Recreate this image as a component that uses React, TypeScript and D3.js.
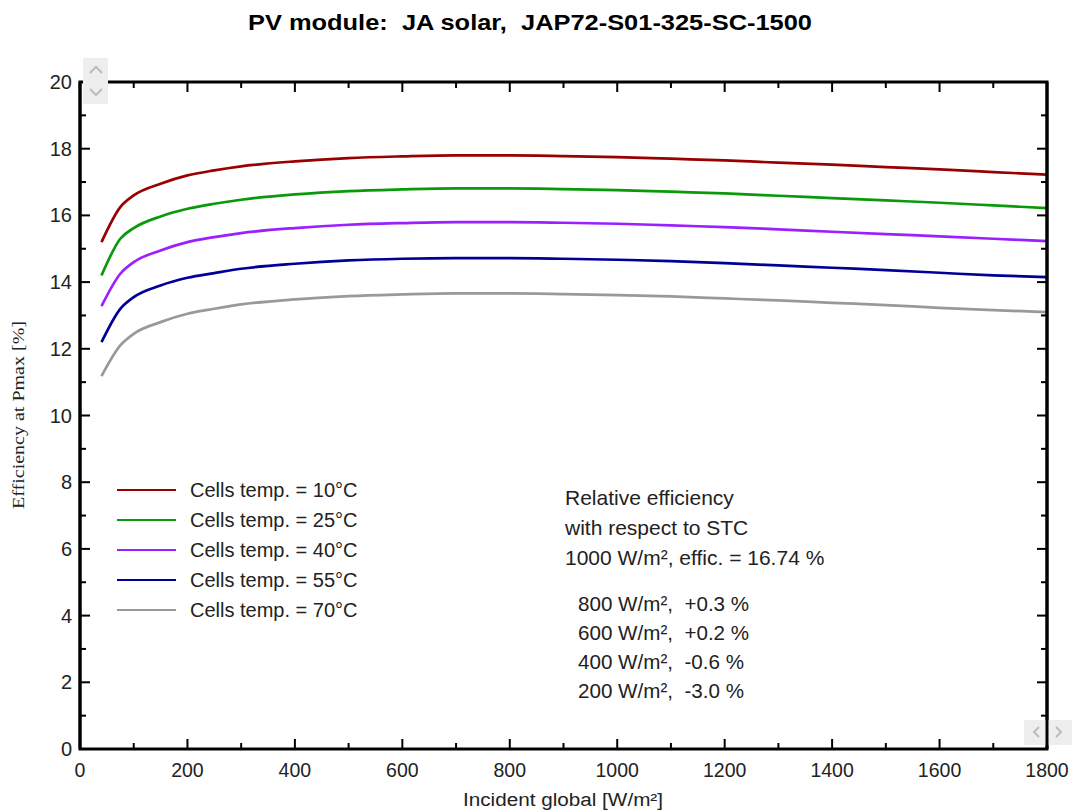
import React, { useEffect, useRef } from "react";
import * as d3 from "d3";

// irradiance [W/m²]
const irradiance = [40, 75, 100, 150, 200, 250, 300, 400, 500, 600, 700, 800, 900, 1000, 1100, 1200, 1300, 1400, 1500, 1600, 1700, 1800];

const eff10 = [15.2, 16.25, 16.6, 16.95, 17.2, 17.35, 17.47, 17.62, 17.72, 17.77, 17.8, 17.8, 17.78, 17.75, 17.7, 17.65, 17.58, 17.52, 17.45, 17.38, 17.3, 17.22];
const eff25 = [14.2, 15.3, 15.62, 15.97, 16.2, 16.35, 16.47, 16.63, 16.73, 16.78, 16.81, 16.81, 16.79, 16.76, 16.71, 16.66, 16.59, 16.52, 16.45, 16.38, 16.3, 16.22];
const eff40 = [13.28, 14.25, 14.6, 14.95, 15.2, 15.35, 15.47, 15.62, 15.72, 15.77, 15.8, 15.8, 15.78, 15.75, 15.7, 15.65, 15.58, 15.51, 15.44, 15.37, 15.3, 15.23];
const eff55 = [12.2, 13.2, 13.55, 13.9, 14.13, 14.27, 14.4, 14.55, 14.65, 14.7, 14.72, 14.72, 14.7, 14.67, 14.63, 14.57, 14.5, 14.43, 14.36, 14.28, 14.2, 14.15];
const eff70 = [11.18, 12.1, 12.45, 12.8, 13.05, 13.2, 13.33, 13.48, 13.58, 13.63, 13.66, 13.66, 13.64, 13.61, 13.57, 13.51, 13.45, 13.38, 13.31, 13.23, 13.16, 13.1];

const seriesLabels = ["Cells temp. = 10°C", "Cells temp. = 25°C", "Cells temp. = 40°C", "Cells temp. = 55°C", "Cells temp. = 70°C"];
const seriesColors = ["#990000", "#0a990a", "#9b20ff", "#000099", "#999999"];

const noteLines = ["Relative efficiency", "with respect to STC", "1000 W/m², effic. = 16.74 %"];
const relLines = ["800 W/m²,  +0.3 %", "600 W/m²,  +0.2 %", "400 W/m²,  -0.6 %", "200 W/m²,  -3.0 %"];

const xTicks = [0, 200, 400, 600, 800, 1000, 1200, 1400, 1600, 1800];
const yTicks = [0, 2, 4, 6, 8, 10, 12, 14, 16, 18, 20];

const App = () => {
  const svgRef = useRef<SVGSVGElement>(null);

  useEffect(() => {
    const svg = d3.select(svgRef.current);
    svg.selectAll("*").remove();

    const width = 1078;
    const height = 812;
    const margin = { top: 82, right: 31, bottom: 63, left: 80 };
    const font = "'Liberation Sans', Arial, sans-serif";
    const textColor = "#222";

    const x = d3.scaleLinear().domain([0, 1800]).range([margin.left, width - margin.right]);
    const y = d3.scaleLinear().domain([0, 20]).range([height - margin.bottom, margin.top]);

    // title
    svg.append("text")
      .attr("x", 530)
      .attr("y", 30)
      .attr("text-anchor", "middle")
      .attr("font-family", font)
      .attr("font-weight", "bold")
      .attr("font-size", 22)
      .attr("textLength", 564)
      .attr("lengthAdjust", "spacingAndGlyphs")
      .style("white-space", "pre")
      .text("PV module:  JA solar,  JAP72-S01-325-SC-1500");

    // curves
    const allSeries = [eff10, eff25, eff40, eff55, eff70];
    const line = d3.line<number>()
      .x((_, i) => x(irradiance[i]))
      .y((d) => y(d))
      .curve(d3.curveMonotoneX);

    allSeries.forEach((vals, k) => {
      svg.append("path")
        .datum(vals)
        .attr("d", line)
        .attr("fill", "none")
        .attr("stroke", seriesColors[k])
        .attr("stroke-width", 2.7);
    });

    // frame
    const x0 = x(0), x1 = x(1800), y0 = y(0), y1 = y(20);
    svg.append("rect")
      .attr("x", x0).attr("y", y1)
      .attr("width", x1 - x0).attr("height", y0 - y1)
      .attr("fill", "none").attr("stroke", "#000").attr("stroke-width", 3);

    // y ticks (left and right, inside)
    d3.range(0, 21, 1).forEach((v) => {
      const major = v % 2 === 0;
      const len = major ? 10 : 6;
      svg.append("line").attr("x1", x0).attr("x2", x0 + len).attr("y1", y(v)).attr("y2", y(v)).attr("stroke", "#000").attr("stroke-width", 2);
      svg.append("line").attr("x1", x1).attr("x2", x1 - len).attr("y1", y(v)).attr("y2", y(v)).attr("stroke", "#000").attr("stroke-width", 2);
    });
    // x ticks (bottom and top, inside)
    d3.range(0, 1801, 100).forEach((v) => {
      const major = v % 200 === 0;
      const len = major ? 10 : 6;
      svg.append("line").attr("x1", x(v)).attr("x2", x(v)).attr("y1", y0).attr("y2", y0 - len).attr("stroke", "#000").attr("stroke-width", 2);
      svg.append("line").attr("x1", x(v)).attr("x2", x(v)).attr("y1", y1).attr("y2", y1 + len).attr("stroke", "#000").attr("stroke-width", 2);
    });

    // tick labels
    svg.append("g").selectAll("text").data(yTicks).enter().append("text")
      .attr("x", x0 - 8)
      .attr("y", (d) => y(d) + 7)
      .attr("text-anchor", "end")
      .attr("font-family", font)
      .attr("font-size", 20)
      .attr("fill", textColor)
      .text((d) => d);

    svg.append("g").selectAll("text").data(xTicks).enter().append("text")
      .attr("x", (d) => x(d))
      .attr("y", y0 + 28)
      .attr("text-anchor", "middle")
      .attr("font-family", font)
      .attr("font-size", 19.5)
      .attr("fill", textColor)
      .text((d) => d);

    // axis titles
    svg.append("text")
      .attr("x", 563)
      .attr("y", 806)
      .attr("text-anchor", "middle")
      .attr("font-family", font)
      .attr("font-size", 18)
      .attr("textLength", 200)
      .attr("lengthAdjust", "spacingAndGlyphs")
      .attr("fill", textColor)
      .text("Incident global [W/m²]");

    svg.append("text")
      .attr("transform", `translate(24, 415) rotate(-90)`)
      .attr("text-anchor", "middle")
      .attr("font-family", "'Liberation Serif', 'Times New Roman', serif")
      .attr("font-size", 16)
      .attr("textLength", 188)
      .attr("lengthAdjust", "spacingAndGlyphs")
      .attr("fill", textColor)
      .text("Efficiency at Pmax [%]");

    // legend
    const leg = svg.append("g");
    seriesLabels.forEach((lab, i) => {
      const ly = 490 + i * 30;
      leg.append("line").attr("x1", 117).attr("x2", 176).attr("y1", ly).attr("y2", ly)
        .attr("stroke", seriesColors[i]).attr("stroke-width", 2);
      leg.append("text").attr("x", 190).attr("y", ly + 7)
        .attr("font-family", font).attr("font-size", 20).attr("fill", textColor)
        .text(lab);
    });

    // notes
    noteLines.forEach((t, i) => {
      svg.append("text").attr("x", 565).attr("y", 504.5 + i * 30)
        .attr("font-family", font).attr("font-size", 21).attr("fill", textColor)
        .text(t);
    });
    relLines.forEach((t, i) => {
      svg.append("text").attr("x", 578).attr("y", 610.5 + i * 29.3)
        .attr("font-family", font).attr("font-size", 20.6).attr("fill", textColor)
        .style("white-space", "pre")
        .text(t);
    });

    // scroll buttons
    const btn = svg.append("g");
    btn.append("rect").attr("x", 83).attr("y", 58).attr("width", 25).attr("height", 46).attr("fill", "#eeeeee");
    btn.append("path").attr("d", "M90,73 L96,67 L102,73").attr("fill", "none").attr("stroke", "#bbb").attr("stroke-width", 2);
    btn.append("path").attr("d", "M90,89 L96,95 L102,89").attr("fill", "none").attr("stroke", "#bbb").attr("stroke-width", 2);
    btn.append("rect").attr("x", 1024).attr("y", 720).attr("width", 48).attr("height", 25).attr("fill", "#eeeeee");
    btn.append("path").attr("d", "M1039,727 L1034,732 L1039,737").attr("fill", "none").attr("stroke", "#bbb").attr("stroke-width", 2);
    btn.append("path").attr("d", "M1056,727 L1061,732 L1056,737").attr("fill", "none").attr("stroke", "#bbb").attr("stroke-width", 2);
    // redraw frame lines over buttons
    svg.append("line").attr("x1", x1).attr("x2", x1).attr("y1", y1).attr("y2", y0).attr("stroke", "#000").attr("stroke-width", 3);
    svg.append("line").attr("x1", x0).attr("x2", x0).attr("y1", y1).attr("y2", y0).attr("stroke", "#000").attr("stroke-width", 3);
  }, []);

  return (
    <svg ref={svgRef} width={1078} height={812} style={{ display: "block", position: "absolute", left: 0, top: 0, background: "#fff" }}></svg>
  );
};

export default App;
